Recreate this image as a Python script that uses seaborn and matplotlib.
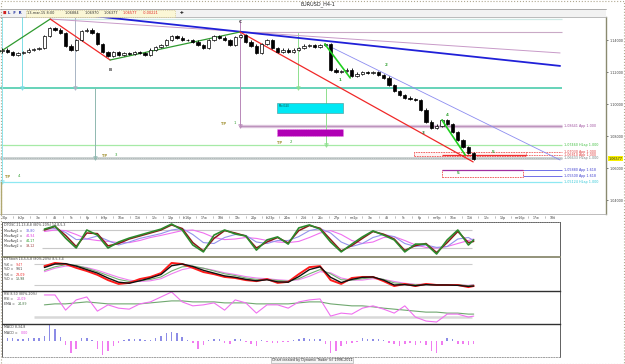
import numpy as np
import matplotlib
matplotlib.use("Agg")
import matplotlib.pyplot as plt
import seaborn as sns
from matplotlib.patches import Rectangle
from matplotlib.lines import Line2D

# ---------------- data ----------------
closes = [1.1338, 1.1325, 1.1306, 1.1319, 1.1325, 1.1338, 1.1344, 1.1350, 1.1425, 1.1475,
          1.1463, 1.1444, 1.1363, 1.1338, 1.1400, 1.1456, 1.1463, 1.1444, 1.1375, 1.1325,
          1.1300, 1.1325, 1.1306, 1.1319, 1.1313, 1.1325, 1.1319, 1.1306, 1.1338, 1.1356,
          1.1369, 1.1400, 1.1425, 1.1413, 1.1400, 1.1400, 1.1388, 1.1369, 1.1350, 1.1400,
          1.1425, 1.1413, 1.1400, 1.1369, 1.1419, 1.1431, 1.1388, 1.1363, 1.1319, 1.1375,
          1.1400, 1.1350, 1.1325, 1.1338, 1.1325, 1.1338, 1.1350, 1.1363, 1.1369, 1.1356,
          1.1369, 1.1375, 1.1213, 1.1200, 1.1206, 1.1213, 1.1175, 1.1188, 1.1200, 1.1194,
          1.1200, 1.1181, 1.1163, 1.1119, 1.1081, 1.1056, 1.1038, 1.1031, 1.1025, 1.0963,
          1.0888, 1.0850, 1.0863, 1.0900, 1.0875, 1.0825, 1.0775, 1.0731, 1.0694, 1.0658]
first_open = 1.1330
last_price = 1.06577

macd_hist = [3, 3, 3, 2, 2, 3, 3, 3, 5, 16,
             12, 4, -4, -12, -8, 3, 3, 1, -8, -14,
             -10, -5, -2, 1, 2, 2, 2, 1, 1, 3,
             5, 8, 9, 8, 4, 1, -2, -8, -4, 1,
             2, 2, -2, -3, 2, 2, -1, -3, -5, 1,
             -1, -2, -2, -1, -1, 1, 2, 3, 2, 2,
             2, -3, -12, -10, -5, -3, -2, -1, 3, 2,
             2, 2, 1, -2, -3, -5, -3, -2, -4, -2,
             -4, -10, -12, -4, 3, 2, -3, -3, -4, -3]

osc_idx = list(range(8, 89, 2)) + [89]
dtosc_fast = [83, 93, 53, 20, 80, 63, 20, 40, 53, 63, 73, 83, 100, 80, 30, 7, 63, 80, 67, 60,
              13, 47, 57, 33, 87, 97, 83, 40, 7, 33, 57, 77, 63, 47, 7, 33, 33, 0, 47, 80, 30, 47]
dtosc_slow = [80, 92, 62, 25, 70, 68, 27, 35, 50, 60, 70, 80, 97, 85, 38, 10, 52, 78, 70, 60,
              20, 40, 55, 37, 78, 95, 86, 48, 10, 28, 52, 75, 66, 50, 12, 28, 35, 5, 38, 75, 38, 42]
dtosc_ma1 = [82, 85, 72, 48, 50, 60, 45, 30, 40, 52, 60, 68, 80, 85, 65, 38, 35, 55, 65, 62,
             40, 35, 45, 45, 58, 78, 85, 70, 40, 25, 35, 55, 65, 58, 35, 25, 30, 22, 25, 50, 55, 45]
dtosc_ma2 = [75, 80, 78, 65, 50, 45, 42, 38, 38, 45, 55, 62, 70, 78, 80, 70, 55, 48, 50, 55,
             52, 45, 40, 38, 42, 55, 70, 78, 65, 45, 35, 40, 55, 58, 45, 30, 22, 20, 25, 35, 45, 50]

stoch_k = [74, 83, 80, 69, 60, 49, 34, 23, 26, 37, 43, 54, 83, 80, 69, 57, 51, 43, 40, 34,
           31, 37, 26, 29, 51, 71, 74, 34, 23, 40, 43, 43, 31, 17, 23, 17, 23, 20, 20, 20, 14, 17]
stoch_d = [70, 80, 81, 74, 64, 54, 40, 28, 25, 32, 40, 50, 75, 80, 73, 62, 54, 46, 42, 36,
           32, 35, 29, 28, 44, 64, 72, 42, 27, 36, 42, 43, 34, 20, 21, 18, 21, 20, 20, 19, 16, 17]
stoch_k2 = [62, 72, 78, 76, 68, 58, 47, 36, 30, 32, 36, 43, 60, 72, 74, 68, 60, 52, 47, 40,
            36, 36, 33, 31, 38, 52, 64, 52, 35, 34, 38, 41, 36, 26, 23, 21, 22, 20, 20, 21, 18, 20]
stoch_d2 = [58, 68, 74, 74, 70, 62, 52, 42, 34, 30, 32, 38, 52, 64, 70, 68, 62, 55, 50, 44,
            40, 38, 35, 33, 35, 45, 58, 55, 40, 34, 34, 38, 36, 30, 25, 22, 22, 21, 20, 20, 19, 21]

rsi_vals = [88, 88, 42, 73, 82, 39, 58, 48, 45, 61, 67, 82, 97, 67, 55, 58, 64, 42, 73, 64,
            33, 58, 58, 48, 67, 73, 76, 24, 33, 30, 48, 55, 45, 33, 55, 21, 9, 6, 30, 30, 21, 24]
rsi_ema = [58, 61, 61, 64, 67, 64, 61, 61, 61, 61, 64, 67, 70, 70, 67, 67, 67, 64, 64, 64,
           61, 61, 61, 61, 64, 67, 67, 61, 58, 55, 55, 52, 48, 45, 42, 39, 36, 36, 33, 33, 30, 30]

price_ticks = [1.04, 1.06, 1.08, 1.10, 1.12, 1.14]
date_labels = ["30p", "fe2p", "3w", "4б", "5c", "6p", "fe9p", "10w", "11б", "12c", "13p",
               "fe16p", "17w", "18б", "19c", "20p", "fe23p", "24w", "25б", "26c", "27p",
               "mr2p", "3w", "4б", "5c", "6p", "mr9p", "10w", "11б", "12c", "13p", "mr16p", "17w", "18б"]

# wave path A-B-C (bar index, price)
wave_x = [-0.4, 9.1, 20.4, 44.9, 88.9]
wave_y = [1.1325, 1.1531, 1.1275, 1.1450, 1.0638]
blue_x, blue_y = [17.2, 105.3], [1.1550, 1.1238]
pink_x, pink_y = [9.1, 105.3], [1.1531, 1.1319]
lav_x, lav_y = [60.9, 105.3], [1.1375, 1.0650]
arrow1_x, arrow1_y = [60.9, 65.7], [1.1375, 1.1163]
arrow2_x, arrow2_y = [83.0, 87.4], [1.0900, 1.0681]

level_prices = [1.1531, 1.1450, 1.1100, 1.08641, 1.0746, 1.0703, 1.0681, 1.06633, 1.0588, 1.0550, 1.05124]
level_start = [9.1, 44.9, -0.4, 44.9, -0.4, 98.9, 98.9, -0.4, 98.3, 98.3, -0.4]
level_end = 105.7
level_text = [None, None, None, "App 1.000", "HLap 1.000", "App 1.000", "App 1.000",
              "HLap 1.000", "App 1.618", "App 1.618", "HLap 1.000"]

vline_x = [0.0, 3.77, 13.77, 17.55, 44.9, 55.85, 61.1]
vline_top = [1.1544, 1.1544, 1.1544, 1.1100, 1.1525, 1.1444, 1.1100]
vline_bot = [1.05124, 1.1100, 1.1100, 1.06633, 1.08641, 1.1100, 1.0746]

box_x0 = [51.9, 51.9, 77.7, 83.0]
box_x1 = [64.3, 64.3, 98.9, 98.3]
box_top = [1.1006, 1.0844, 1.0703, 1.0588]
box_bot = [1.0944, 1.0800, 1.0675, 1.0544]

# ---------------- layout helpers ----------------
sns.set_theme(style="white")
plt.rcParams['font.family'] = ['DejaVu Sans']

W, H = 625, 364
fig = plt.figure(figsize=(6.25, 3.64), dpi=100)
fig.patch.set_facecolor('white')


def frac(x0, y0, x1, y1):
    return [x0 / W, 1 - y1 / H, (x1 - x0) / W, (y1 - y0) / H]


X0, S = 2.0, 5.3


def ix(px):
    return (px - X0) / S


def D(px, py):
    return ((px - X0) / S, 1.14 - (py - 40) * 0.000625)


def T(x, y, s, size=2.6, color='#303030', ha='left', va='center', **kw):
    fig.text(x / W, 1 - y / H, s, fontsize=size, color=color, ha=ha, va=va, **kw)


def fline(x0, y0, x1, y1, **kw):
    fig.add_artist(Line2D([x0 / W, x1 / W], [1 - y0 / H, 1 - y1 / H], transform=fig.transFigure, **kw))


# ---------------- top bars ----------------
T(318, 4.5, "EURUSD_H4-1", size=3.6, color='#202020', ha='center')
fig.add_artist(Rectangle((0, 1 - 17 / H), 606 / W, 8 / H, transform=fig.transFigure,
                         facecolor='#f2f2f2', edgecolor='none'))
fline(0, 9, 606, 9, color='#a0a0a0', lw=0.6)
fig.add_artist(Rectangle((26 / W, 1 - 16.5 / H), 149 / W, 6.5 / H, transform=fig.transFigure,
                         facecolor='#fbf7d6', edgecolor='#c8b870', lw=0.5, ls=':'))
T(3, 13, "■", size=2.6, color='#d02020')
T(8, 13, "L  F  R", size=2.8, color='#2030a0', weight='bold')
for xx, s, col in [(27, "13-mar-15 8:00", '#303030'), (65, "1,06884", '#303030'),
                   (85, "1,06970", '#303030'), (104, "1,06377", '#303030'),
                   (123, "1,06577", '#e02020'), (143, "-0,00221", '#e02020')]:
    T(xx, 13.2, s, size=2.5, color=col)
T(182, 13, "✚", size=3.2, color='#202020', ha='center')

# ---------------- main price panel ----------------
ax = fig.add_axes(frac(0, 17, 606, 214))
ax.set_facecolor('white')
ax.set_xlim(ix(0), ix(606))
ax.set_ylim(1.14 - (214 - 40) * 0.000625, 1.14 + (40 - 17) * 0.000625)

# horizontal levels
lev_style = [dict(color='#cfe9e5', lw=0.9), dict(color='#c9a9c6', lw=0.8),
             dict(color='#3cc8a6', lw=1.1), dict(color='#dcc4dc', lw=2.4),
             dict(color='#a6eaa6', lw=0.9), dict(color='#f06060', lw=0.6, ls=(0, (2, 1))),
             dict(color='#f06060', lw=0.6, ls=(0, (2, 1))), dict(color='#c9cfcf', lw=2.0),
             dict(color='#7070e8', lw=0.7), dict(color='#7070e8', lw=0.7),
             dict(color='#8ee8f2', lw=0.9)]
lab_col = [None, None, None, '#a050a0', '#40c040', '#e04040', '#e04040', '#708080',
           '#4040d0', '#4040d0', '#30c8d8']
for p, s0, st, tx, lc in zip(level_prices, level_start, lev_style, level_text, lab_col):
    ax.hlines(p, s0, level_end, zorder=2, **st)
    if tx is not None:
        ax.text(ix(564), p, f"{p:.5f}".replace('.', ',') + " " + tx, fontsize=2.4,
                color=lc, va='center', ha='left', clip_on=False)
ax.hlines(level_prices[3], level_start[3], level_end, color='#b080b0', lw=0.5, zorder=2)
ax.hlines(level_prices[7], level_start[7], level_end, color='#9aa6a6', lw=0.5, ls=':', zorder=2)

# vertical projection lines
vcols = ['#90e6ee', '#80dde6', '#a8b4c4', '#8fb8b0', '#b888b8', '#8ee08e', '#8ee08e']
for x, t, b, cc in zip(vline_x, vline_top, vline_bot, vcols):
    ax.plot([x, x], [t, b], color=cc, lw=0.7, zorder=2)
    ax.plot([x], [b], marker='v', ms=2.6, mfc='none', mec=cc, mew=0.6, zorder=2)

# zone boxes
ax.add_patch(Rectangle((box_x0[0], box_bot[0]), box_x1[0] - box_x0[0], box_top[0] - box_bot[0],
                       facecolor='#00e8f4', edgecolor='#50a8a8', lw=0.5, zorder=3))
ax.add_patch(Rectangle((box_x0[1], box_bot[1]), box_x1[1] - box_x0[1], box_top[1] - box_bot[1],
                       facecolor='#b000b4', edgecolor='#f080f0', lw=0.5, ls=':', zorder=3))
ax.add_patch(Rectangle((box_x0[2], box_bot[2]), box_x1[2] - box_x0[2], box_top[2] - box_bot[2],
                       facecolor='#fff4f4', edgecolor='#f05050', lw=0.6, ls=(0, (2, 1)), zorder=3))
ax.add_patch(Rectangle((box_x0[3], box_bot[3]), box_x1[3] - box_x0[3], box_top[3] - box_bot[3],
                       facecolor='none', edgecolor='#f05050', lw=0.6, ls=(0, (2, 1)), zorder=3))
ax.hlines(box_top[3], box_x0[3], box_x1[3], color='#a030a0', lw=0.9, zorder=4)
ax.hlines(level_prices[6], box_x0[3], box_x1[2], color='#f03030', lw=0.9, zorder=4)
ax.text(*D(279, 106), "Mx 0,50", fontsize=1.8, color='#104040', va='center', zorder=5)

# trend lines
ax.plot(blue_x, blue_y, color='#2020d8', lw=1.3, zorder=4)
ax.plot(pink_x, pink_y, color='#c89ac8', lw=0.7, zorder=3)
ax.plot(lav_x, lav_y, color='#8c8cf0', lw=0.6, zorder=3)
seg_cols = ['#2f9a2f', '#f02828', '#2f9a2f', '#f02828']
for k in range(4):
    ax.plot(wave_x[k:k + 2], wave_y[k:k + 2], color=seg_cols[k], lw=0.9, zorder=4)
ax.plot(arrow1_x, arrow1_y, color='#20d020', lw=1.2, zorder=7)
ax.plot(arrow2_x, arrow2_y, color='#20d020', lw=1.2, zorder=7)

# candles
idx = np.arange(len(closes))
o = np.array([first_open] + closes[:-1])
c = np.array(closes)
lo = np.minimum(o, c)
hi = np.maximum(o, c)
hgt = np.maximum(hi - lo, 0.00025)
up = c >= o
ax.vlines(idx, lo - 0.0009, hi + 0.0009, color='black', lw=0.6, zorder=5)
ax.bar(idx[up], hgt[up], bottom=lo[up], width=0.62, color='white', edgecolor='black', linewidth=0.5, zorder=6)
ax.bar(idx[~up], hgt[~up], bottom=lo[~up], width=0.62, color='black', edgecolor='black', linewidth=0.5, zorder=6)

# wave & TP labels
for (px, py, s, col) in [(110, 70, "B", '#404040'), (240, 22, "C", '#404040'), (340, 80, "1", '#30a030'),
                         (386, 65, "2", '#30a030'), (423, 133, "3", '#307030'), (447, 115, "4", '#30a030'),
                         (493, 152, "5", '#30a030'), (458, 173, "5", '#30a030')]:
    ax.text(*D(px, py), s, fontsize=3.0, color=col, ha='center', va='center', zorder=8, weight='bold')
for (px, py, n) in [(224, 124, "1"), (280, 143, "2"), (105, 156, "3"), (8, 177, "4")]:
    ax.text(*D(px, py), "TP", fontsize=2.6, color='#a09030', ha='center', va='center', zorder=8, weight='bold')
    ax.text(*D(px + 11, py - 1.5), n, fontsize=2.8, color='#30a030', ha='center', va='center', zorder=8)

ax.yaxis.tick_right()
ax.set_yticks(price_ticks)
ax.set_yticklabels([f"{p:.5f}".replace('.', ',') for p in price_ticks])
ax.tick_params(axis='y', labelsize=2.4, length=1.5, pad=1, colors='#404040', width=0.5)
ax.set_xticks([])
ax.text(1.004, last_price, "1,06577", transform=ax.get_yaxis_transform(), fontsize=2.4,
        va='center', ha='left', color='#202020', clip_on=False,
        bbox=dict(boxstyle='square,pad=0.15', fc='#f8f000', ec='none'))
ax.spines['left'].set_visible(False)
for sp in ['top', 'bottom']:
    ax.spines[sp].set_color('#b0b0b0')
    ax.spines[sp].set_linewidth(0.6)
ax.spines['right'].set_color('#8a8a70')
ax.spines['right'].set_linewidth(1.0)
ax.grid(False)
fline(1.5, 182, 1.5, 214, color='#b0a870', lw=1.0)

# ---------------- date row ----------------
fline(2, 222, 560, 222, color='#a0a0a0', lw=0.6, ls=':')
for k, s in enumerate(date_labels):
    T(5 + k * 16.6, 218.2, s, size=2.3, color='#404040', ha='center')
    fline(5 + k * 16.6 - 8.3, 216, 5 + k * 16.6 - 8.3, 217.5, color='#909090', lw=0.4)

# ---------------- indicator panels ----------------
xl = (ix(2), ix(560))


def panel(y0, y1):
    a = fig.add_axes(frac(2, y0, 560, y1))
    a.set_facecolor('white')
    for sp in a.spines.values():
        sp.set_color('#606060')
        sp.set_linewidth(0.7)
    a.set_xticks([])
    a.set_yticks([])
    a.grid(False)
    return a


def finish(a, ylim):
    a.set_xlim(*xl)
    a.set_ylim(*ylim)
    a.set_xlabel('')
    a.set_ylabel('')


a1 = panel(222, 257)
a1.hlines([80, 20], 7.5, 88.7, color='#c8c8c8', lw=0.8)
sns.lineplot(x=osc_idx, y=dtosc_ma2, ax=a1, color='#f070f0', linewidth=0.8)
sns.lineplot(x=osc_idx, y=dtosc_ma1, ax=a1, color='#9494ec', linewidth=0.8)
sns.lineplot(x=osc_idx, y=dtosc_slow, ax=a1, color='#8b1818', linewidth=1.1)
sns.lineplot(x=osc_idx, y=dtosc_fast, ax=a1, color='#2c8a2c', linewidth=1.2)
finish(a1, (-10, 106.7))
T(4, 225.5, "DTOSC 21,13,8,8 (80%-20%) 14,8,5,3", size=2.3, color='#404040')
for k, (lab, val, col) in enumerate([("MovAvg1 = ", "33,80", '#6060e0'), ("MovAvg2 = ", "44,94", '#e040e0'),
                                     ("MovAvg1 = ", "44,17", '#30a030'), ("MovAvg2 = ", "39,12", '#a04040')]):
    T(4, 231 + 5 * k, lab, size=2.3, color='#404040')
    T(26, 231 + 5 * k, val, size=2.3, color=col)

a2 = panel(257, 291)
a2.hlines([80, 20], 6, 88.7, color='#cccccc', lw=0.8)
sns.lineplot(x=osc_idx, y=stoch_d2, ax=a2, color='#f080f0', linewidth=0.8)
sns.lineplot(x=osc_idx, y=stoch_k2, ax=a2, color='#70b070', linewidth=0.8)
sns.lineplot(x=osc_idx, y=stoch_k, ax=a2, color='#ff1a1a', linewidth=1.4)
sns.lineplot(x=osc_idx, y=stoch_d, ax=a2, color='#101010', linewidth=1.0)
finish(a2, (2.86, 100))
a2.spines['top'].set_color('#8a8a70')
a2.spines['top'].set_linewidth(1.3)
T(4, 259.5, "DTStoch 14,5,5,8 (80%-20%) 8,5,3,4", size=2.3, color='#404040')
for k, (lab, val, col) in enumerate([("%K = ", "9,47", '#f04040'), ("%D = ", "9,61", '#404040'),
                                     ("%K = ", "23,09", '#f02020'), ("%D = ", "13,98", '#406040')]):
    T(4, 264.5 + 5 * k, lab, size=2.3, color='#404040')
    T(16, 264.5 + 5 * k, val, size=2.3, color=col)

a3 = panel(291, 324)
a3.hlines([22], 6, 88.7, color='#d8d8d8', lw=1.8)
sns.lineplot(x=osc_idx, y=rsi_ema, ax=a3, color='#70a870', linewidth=0.8)
sns.lineplot(x=osc_idx, y=rsi_vals, ax=a3, color='#f070f0', linewidth=0.8)
finish(a3, (0, 100))
a3.spines['top'].set_color('#303030')
a3.spines['top'].set_linewidth(1.0)
T(4, 294, "RSI 8,50 (80%-20%)", size=2.3, color='#404040')
T(4, 299, "RSI = ", size=2.3, color='#404040')
T(17, 299, "20,09", size=2.3, color='#e040e0')
T(4, 304, "EMA = ", size=2.3, color='#404040')
T(18, 304, "24,89", size=2.3, color='#508050')

a4 = panel(324, 357)
mh = np.array(macd_hist)
a4.bar(idx[mh >= 0], mh[mh >= 0], width=0.3, color='#8c8ce6', linewidth=0)
a4.bar(idx[mh < 0], mh[mh < 0], width=0.3, color='#f07cf0', linewidth=0)
finish(a4, (-16, 17))
a4.spines['top'].set_color('#303030')
a4.spines['top'].set_linewidth(1.0)
a4.spines['bottom'].set_color('#a0a0a0')
a4.spines['bottom'].set_linestyle(':')
T(4, 327.5, "MACD 8,34,8", size=2.3, color='#404040')
T(4, 332.5, "MACD = ", size=2.3, color='#404040')
T(21, 332.5, "0,00", size=2.3, color='#e040e0')

# footer & frame
T(312, 360.5, "Chart created by Dynamic Trader (c) 1996-2011", size=2.4, color='#303030', ha='center',
  bbox=dict(boxstyle='square,pad=0.2', fc='#f4f4f4', ec='#a0a0a0', lw=0.4))
fig.add_artist(Rectangle((0.5 / W, 0.5 / H), (W - 1.5) / W, (H - 1.5) / H, transform=fig.transFigure,
                         fill=False, ec='#b0a890', lw=0.8, ls=':'))

fig.savefig("out.png", dpi=100, facecolor='white')
